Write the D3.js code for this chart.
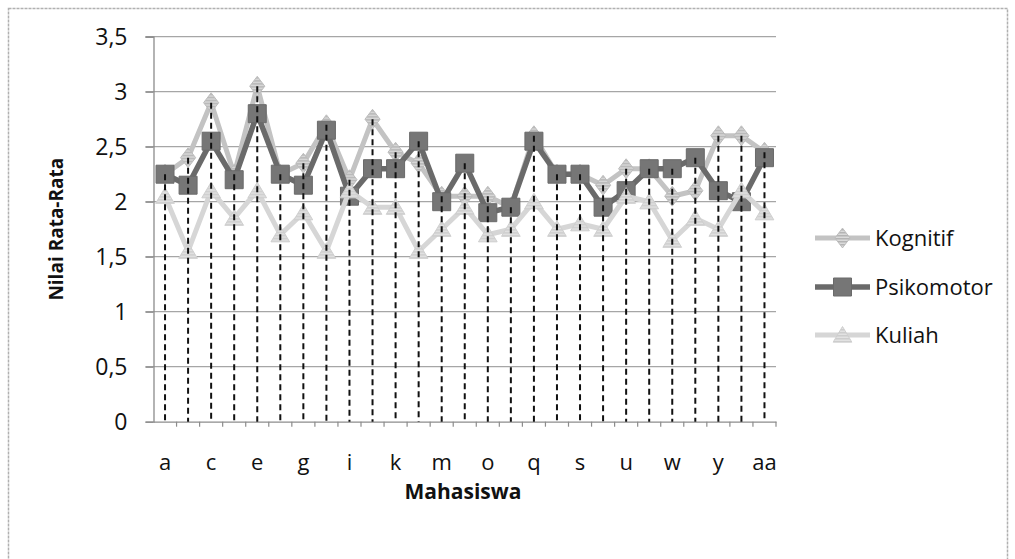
<!DOCTYPE html>
<html>
<head>
<meta charset="utf-8">
<script src="https://cdn.jsdelivr.net/npm/d3@7"></script>
<style>
  html, body { margin: 0; padding: 0; background: #ffffff; }
  svg { display: block; }
  text { font-family: "Open Sans", "Noto Sans", sans-serif; fill: #111; }
</style>
</head>
<body>
<svg id="chart" width="1015" height="559"></svg>
<script>
const categories = ["a","b","c","d","e","f","g","h","i","j","k","l","m","n","o","p","q","r","s","t","u","v","w","x","y","z","aa"];
const kognitif   = [2.25,2.4,2.9,2.25,3.05,2.25,2.35,2.7,2.2,2.75,2.45,2.35,2.05,2.05,2.05,1.95,2.6,2.25,2.25,2.15,2.3,2.3,2.05,2.1,2.6,2.6,2.45];
const psikomotor = [2.25,2.15,2.55,2.2,2.8,2.25,2.15,2.65,2.05,2.3,2.3,2.55,2.0,2.35,1.9,1.95,2.55,2.25,2.25,1.95,2.1,2.3,2.3,2.4,2.1,2.0,2.4];
const kuliah     = [2.05,1.55,2.1,1.85,2.1,1.7,1.9,1.55,2.1,1.95,1.95,1.55,1.75,1.95,1.7,1.75,2.0,1.75,1.8,1.75,2.05,2.0,1.65,1.85,1.75,2.1,1.9];
const seriesNames = ["Kognitif","Psikomotor","Kuliah"];
const yTickValues = [0,0.5,1,1.5,2,2.5,3,3.5];
const yTickLabels = ["0","0,5","1","1,5","2","2,5","3","3,5"];
const xLabelEvery = 2;
const xTitle = "Mahasiswa";
const yTitle = "Nilai Rata-Rata";

const svg = d3.select("#chart");
const plot = {left: 153.5, right: 776, top: 36.7, bottom: 421.7};

// defs: hatch patterns
const defs = svg.append("defs");
const pk = defs.append("pattern").attr("id","hatchK").attr("patternUnits","userSpaceOnUse").attr("width",4).attr("height",3);
pk.append("rect").attr("width",4).attr("height",3).attr("fill","#dadada");
pk.append("rect").attr("width",4).attr("height",1.5).attr("fill","#b4b4b4");
const pq = defs.append("pattern").attr("id","hatchQ").attr("patternUnits","userSpaceOnUse").attr("width",4).attr("height",3);
pq.append("rect").attr("width",4).attr("height",3).attr("fill","#e2e2e2");
pq.append("rect").attr("width",4).attr("height",1.5).attr("fill","#cdcdcd");

// outer border
svg.append("rect").attr("x",8.5).attr("y",8.5).attr("width",999).attr("height",570)
  .attr("fill","none").attr("stroke","#b0b0b0").attr("stroke-width",1.5).attr("stroke-dasharray","3,1");

const x = d3.scaleBand().domain(categories).range([plot.left, plot.right]).padding(0);
const y = d3.scaleLinear().domain([0,3.5]).range([plot.bottom, plot.top]);
const cx = c => x(c) + x.bandwidth()/2;

// gridlines
svg.append("g").selectAll("line").data(yTickValues.filter(v => v > 0)).join("line")
  .attr("x1", plot.left - 8).attr("x2", plot.right)
  .attr("y1", d => y(d)).attr("y2", d => y(d))
  .attr("stroke","#a6a6a6").attr("stroke-width",1.3);

// y axis
const yAxis = d3.axisLeft(y).tickValues(yTickValues).tickSize(8).tickPadding(18)
  .tickFormat((d,i) => yTickLabels[i]);
const gy = svg.append("g").attr("transform",`translate(${plot.left},0)`).call(yAxis);
gy.select(".domain").attr("stroke","#8c8c8c").attr("stroke-width",1.3);
gy.selectAll(".tick line").attr("stroke","#8c8c8c").attr("stroke-width",1.3);
gy.selectAll(".tick text").style("font-size","23px").attr("fill","#111")
  .style("font-family","'Open Sans', sans-serif");

// x axis
const xAxis = d3.axisBottom(x).tickSize(0).tickPadding(33)
  .tickFormat((d,i) => (i % xLabelEvery === 0) ? d : "");
const gx = svg.append("g").attr("transform",`translate(0,${plot.bottom})`).call(xAxis);
gx.select(".domain").attr("stroke","#8c8c8c").attr("stroke-width",1.3);
gx.selectAll(".tick text").style("font-size","22px").attr("fill","#111")
  .style("font-family","'Open Sans', sans-serif");
// boundary tick marks
svg.append("g").selectAll("line").data(categories).join("line")
  .attr("x1", d => x(d) + x.bandwidth()).attr("x2", d => x(d) + x.bandwidth())
  .attr("y1", plot.bottom).attr("y2", plot.bottom + 5)
  .attr("stroke","#8c8c8c").attr("stroke-width",1.2);

// titles
svg.append("text").attr("x", 463).attr("y", 499).attr("text-anchor","middle")
  .style("font-size","21px").style("font-weight","bold").text(xTitle);
svg.append("text").attr("transform",`translate(63,${(plot.top+plot.bottom)/2}) rotate(-90)`)
  .attr("text-anchor","middle").style("font-size","19px").style("font-weight","bold").text(yTitle);

// lines
const line = d3.line().x((d,i) => cx(categories[i])).y(d => y(d));
const series = [
  {name: seriesNames[0], values: kognitif, stroke:"#c3c3c3", width:5, marker:"diamond", fill:"url(#hatchK)", mstroke:"#bcbcbc"},
  {name: seriesNames[1], values: psikomotor, stroke:"#6a6a6a", width:5.5, marker:"square", fill:"#767676", mstroke:"#6a6a6a"},
  {name: seriesNames[2], values: kuliah, stroke:"#d6d6d6", width:5, marker:"triangle", fill:"url(#hatchQ)", mstroke:"#cfcfcf"}
];
const markerPath = (type, s) => {
  if (type === "square") return `M${-s/2},${-s/2}h${s}v${s}h${-s}Z`;
  if (type === "diamond") return `M0,${-s*0.55}L${s*0.42},0L0,${s*0.55}L${-s*0.42},0Z`;
  return `M0,${-s*0.5}L${s*0.55},${s*0.42}L${-s*0.55},${s*0.42}Z`;
};
const msize = {square:18, diamond:18, triangle:17};

series.forEach(s => {
  const g = svg.append("g");
  g.append("path").datum(s.values).attr("d", line)
    .attr("fill","none").attr("stroke", s.stroke).attr("stroke-width", s.width)
    .attr("stroke-linejoin","round");
  g.selectAll("path.m").data(s.values).join("path").attr("class","m")
    .attr("transform",(d,i) => `translate(${cx(categories[i])},${y(d)})`)
    .attr("d", markerPath(s.marker, msize[s.marker]))
    .attr("fill", s.fill).attr("stroke", s.mstroke).attr("stroke-width",1);
});

// drop lines
svg.append("g").selectAll("line").data(categories).join("line")
  .attr("x1", d => cx(d)).attr("x2", d => cx(d))
  .attr("y1", (d,i) => y(Math.max(kognitif[i], psikomotor[i], kuliah[i])))
  .attr("y2", plot.bottom)
  .attr("stroke","#111").attr("stroke-width",2).attr("stroke-dasharray","6,4");

// legend
const legY = [238, 287, 335];
const leg = svg.append("g");
series.forEach((s,i) => {
  leg.append("line").attr("x1",815).attr("x2",870).attr("y1",legY[i]).attr("y2",legY[i])
    .attr("stroke", s.stroke).attr("stroke-width", s.width);
  leg.append("path").attr("transform",`translate(842.5,${legY[i]})`)
    .attr("d", markerPath(s.marker, msize[s.marker]))
    .attr("fill", s.fill).attr("stroke", s.mstroke).attr("stroke-width",1);
  leg.append("text").attr("x",875).attr("y",legY[i]).attr("dy","0.35em")
    .style("font-size","22px").text(s.name);
});
</script>
</body>
</html>
